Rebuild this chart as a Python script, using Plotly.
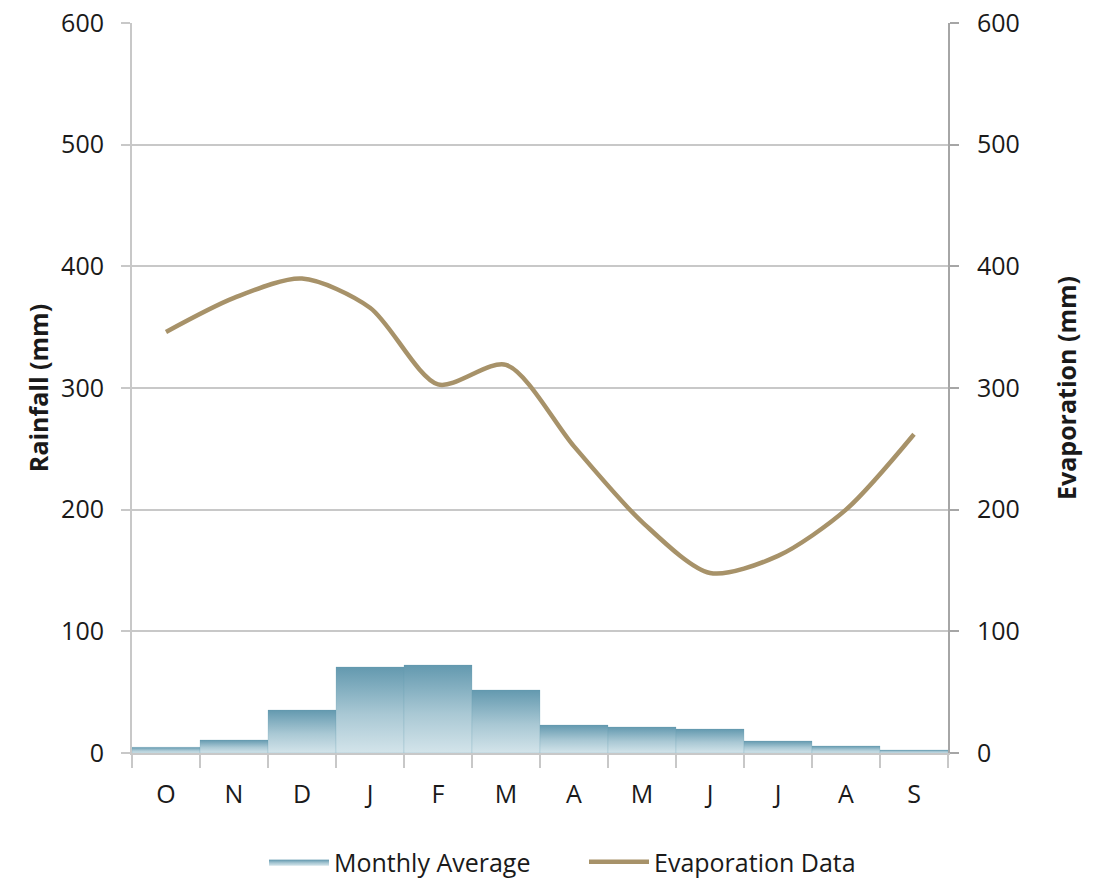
import plotly.graph_objects as go

# Monthly data, hydrological year October -> September
months = ["O", "N", "D", "J", "F", "M", "A", "M", "J", "J", "A", "S"]
rainfall_mm = [4.7, 10.7, 35.3, 70.7, 72.3, 51.8, 23.0, 21.4, 19.7, 9.9, 5.8, 2.5]
evaporation_mm = [346, 374, 390, 366, 303, 319, 252, 190, 148, 162, 200, 262]
y_ticks = [0, 100, 200, 300, 400, 500, 600]

FONT = "Open Sans, Noto Sans, sans-serif"
BAR_TOP = "#6399af"
BAR_BOTTOM = "#d3e4ea"
LINE_COLOR = "#a79269"
GRID = "#c8c8c8"

centers = [i + 0.5 for i in range(len(months))]

fig = go.Figure()

# Rainfall columns: each column is a filled rectangle with its own vertical gradient
for i, v in enumerate(rainfall_mm):
    x0, x1 = i, i + 1
    fig.add_trace(go.Scatter(
        x=[x0, x1, x1, x0, x0],
        y=[0, 0, v, v, 0],
        mode="lines",
        line=dict(width=0.6, color="rgba(99,153,175,0.35)"),
        fill="toself",
        fillgradient=dict(
            type="vertical",
            colorscale=[[0, BAR_BOTTOM], [0.45, "#a9c8d4"], [1, BAR_TOP]],
        ),
        name="Monthly Average",
        legendgroup="rain",
        showlegend=(i == 0),
        hoverinfo="skip",
        yaxis="y",
    ))

# Evaporation curve on the secondary axis
fig.add_trace(go.Scatter(
    x=centers,
    y=evaporation_mm,
    mode="lines",
    line=dict(color=LINE_COLOR, width=4.5, shape="spline", smoothing=0.8),
    name="Evaporation Data",
    yaxis="y2",
))

fig.update_layout(
    width=1096,
    height=888,
    margin=dict(l=132, r=148, t=23, b=135),
    paper_bgcolor="white",
    plot_bgcolor="white",
    font=dict(family=FONT, size=25, color="#1a1a1a"),
    showlegend=True,
    legend=dict(
        orientation="h",
        xref="container", yref="container",
        x=264 / 1096, xanchor="left",
        y=1 - 862 / 888, yanchor="middle",
        font=dict(size=25),
        itemwidth=60,
        entrywidth=245,
        entrywidthmode="pixels",
        traceorder="normal",
    ),
    xaxis=dict(
        range=[0, len(months)],
        tickvals=centers,
        ticktext=months,
        ticks="",
        showgrid=False,
        zeroline=False,
        showline=True,
        linecolor=GRID,
        linewidth=2,
        ticklabelstandoff=18,
        automargin=False,
        minor=dict(
            tickvals=list(range(len(months) + 1)),
            ticks="outside",
            ticklen=13,
            tickwidth=2,
            tickcolor=GRID,
            showgrid=False,
        ),
        fixedrange=True,
    ),
    yaxis=dict(
        range=[0, 600],
        tickvals=y_ticks,
        showgrid=True,
        gridcolor=GRID,
        gridwidth=1.5,
        zeroline=False,
        showline=True,
        linecolor=GRID,
        linewidth=2,
        ticks="outside",
        ticklen=9,
        tickwidth=1.5,
        tickcolor=GRID,
        ticklabelstandoff=12,
        automargin=False,
        title=dict(text="<b>Rainfall (mm)</b>", font=dict(size=25), standoff=5),
    ),
    yaxis2=dict(
        range=[0, 600],
        tickvals=y_ticks,
        overlaying="y",
        side="right",
        showgrid=False,
        zeroline=False,
        showline=True,
        linecolor="#a6a6a6",
        linewidth=2,
        ticks="outside",
        ticklen=9,
        tickwidth=1.5,
        tickcolor="#a6a6a6",
        ticklabelstandoff=13,
        automargin=False,
        title=dict(text="<b>Evaporation (mm)</b>", font=dict(size=25), standoff=40),
    ),
)

fig.write_html("out.html")
